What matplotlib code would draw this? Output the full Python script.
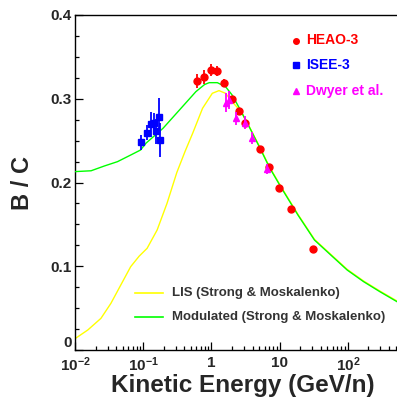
import matplotlib
matplotlib.use("Agg")
import matplotlib.pyplot as plt
from matplotlib.ticker import FixedLocator, MultipleLocator, LogLocator, NullFormatter

plt.rcParams["font.family"] = ["Liberation Sans", "DejaVu Sans"]
plt.rcParams["mathtext.fontset"] = "custom"
plt.rcParams["mathtext.rm"] = "Liberation Sans:bold"
plt.rcParams["mathtext.it"] = "Liberation Sans:bold"
plt.rcParams["mathtext.bf"] = "Liberation Sans:bold"
plt.rcParams["mathtext.default"] = "rm"

# ---- data -------------------------------------------------------------
# HEAO-3 B/C ratio
heao_E = [0.61, 0.78, 0.98, 1.22, 1.53, 2.0, 2.5, 3.14, 5.2, 7.0, 9.8, 14.8, 30.8]
heao_BC = [0.321, 0.326, 0.334, 0.3335, 0.319, 0.2995, 0.2855, 0.271, 0.240, 0.218, 0.194, 0.168, 0.1204]
heao_err = [0.008, 0.008, 0.007, 0.006, 0.004, 0.004, 0.004, 0.004, 0.003, 0.003, 0.003, 0.003, 0.002]

# ISEE-3 B/C ratio
isee_E = [0.094, 0.114, 0.129, 0.144, 0.169, 0.156, 0.178]
isee_BC = [0.248, 0.2595, 0.2695, 0.271, 0.2787, 0.261, 0.251]
isee_err = [0.009, 0.009, 0.015, 0.012, 0.022, 0.015, 0.020]

# Dwyer et al. B/C ratio
dwyer_E = [1.65, 1.80, 2.26, 3.06, 3.93, 6.62]
dwyer_BC = [0.2955, 0.2985, 0.2766, 0.2715, 0.2528, 0.2157]
dwyer_err = [0.011, 0.011, 0.008, 0.008, 0.007, 0.006]

# Strong & Moskalenko model: local interstellar spectrum
lis_E = [0.0100, 0.0154, 0.0240, 0.0336, 0.0469, 0.0655, 0.0871, 0.114, 0.160,
         0.223, 0.311, 0.410, 0.531, 0.741, 1.03, 1.29, 1.61, 2.01, 2.66, 3.55,
         5.01, 7.08, 10.7, 18.6, 32.4, 56.2, 97.7, 170, 295, 525]
lis_BC = [0.0135, 0.0239, 0.0378, 0.0557, 0.0776, 0.0995, 0.112, 0.1214, 0.1433,
          0.175, 0.212, 0.237, 0.2588, 0.2886, 0.3065, 0.3097, 0.3065, 0.2965, 0.2855, 0.2675,
          0.2438, 0.2188, 0.1938, 0.1618, 0.1321, 0.1142, 0.0963, 0.0824, 0.0704, 0.0585]

# Strong & Moskalenko model: solar-modulated
mod_E = [0.0100, 0.0172, 0.0269, 0.0420, 0.0655, 0.0914, 0.110, 0.195, 0.340,
         0.592, 0.794, 0.927, 1.22, 1.61, 2.01, 2.66, 3.55, 5.01, 7.08, 10.7,
         18.6, 32.4, 56.2, 97.7, 170, 295, 525]
mod_BC = [0.213, 0.214, 0.2197, 0.2249, 0.2328, 0.2388, 0.247, 0.2647, 0.2866,
          0.3085, 0.317, 0.3192, 0.3192, 0.3144, 0.3045, 0.2866, 0.267, 0.243, 0.218, 0.193,
          0.161, 0.1313, 0.1134, 0.0955, 0.0816, 0.0696, 0.0577]

x_ticks = [0.01, 0.1, 1, 10, 100]
x_tick_labels = [r"$10^{-2}$", r"$10^{-1}$", "1", "10", r"$10^{2}$"]
y_ticks = [0.0, 0.1, 0.2, 0.3, 0.4]
y_tick_labels = ["0", "0.1", "0.2", "0.3", "0.4"]

# ---- figure -------------------------------------------------------------
W, H = 397, 398
fig = plt.figure(figsize=(W / 100, H / 100), dpi=100)
ax = fig.add_axes([75 / W, 48 / H, 322 / W, 335 / H])

TXT = "#262626"
GREEN = "#00ff00"
YELLOW = "#ffff00"

ax.plot(lis_E, lis_BC, color=YELLOW, lw=1.0, zorder=2)
ax.plot(mod_E, mod_BC, color=GREEN, lw=1.0, zorder=3)

ax.errorbar(isee_E, isee_BC, yerr=isee_err, fmt="s", color="#0000ff", ms=5,
            elinewidth=1.3, capsize=0, zorder=4)
ax.errorbar(heao_E, heao_BC, yerr=heao_err, fmt="o", color="#ff0000", ms=5,
            elinewidth=1.3, capsize=0, zorder=5)
ax.errorbar(dwyer_E, dwyer_BC, yerr=dwyer_err, fmt="^", color="#ff00ff", ms=5,
            elinewidth=1.3, capsize=0, zorder=6)

ax.set_xscale("log")
ax.set_xlim(0.01, 525)
ax.set_ylim(0, 0.4)

ax.xaxis.set_major_locator(FixedLocator(x_ticks))
ax.set_xticklabels(x_tick_labels)
ax.xaxis.set_minor_locator(LogLocator(base=10, subs=range(2, 10), numticks=20))
ax.xaxis.set_minor_formatter(NullFormatter())
ax.yaxis.set_major_locator(FixedLocator(y_ticks))
ylabels = ax.set_yticklabels(y_tick_labels)
ax.yaxis.set_minor_locator(MultipleLocator(0.025))
ylabels[0].set_va("bottom")

ax.tick_params(which="both", direction="in", width=0.9, color="black",
               top=False, right=False)
ax.tick_params(axis="y", which="major", length=6, pad=2.5, labelsize=11, labelcolor=TXT)
ax.tick_params(axis="y", which="minor", length=3)
ax.tick_params(axis="x", which="major", length=5.5, pad=4, labelsize=11, labelcolor=TXT)
ax.tick_params(axis="x", which="minor", length=3)
for lab in ax.get_xticklabels() + ax.get_yticklabels():
    lab.set_fontweight("bold")

for side in ("left", "bottom", "top"):
    ax.spines[side].set_linewidth(1.0)
    ax.spines[side].set_color("black")
ax.spines["right"].set_visible(False)

ax.set_xlabel("Kinetic Energy (GeV/n)", fontsize=17.5, fontweight="bold", color=TXT)
ax.xaxis.set_label_coords(0.52, -0.072)
ax.set_ylabel("B / C", fontsize=17, fontweight="bold", color=TXT)
ax.yaxis.set_label_coords(-0.128, 0.5)

# data-set key (upper right)
def ax_xy(px, py):
    return (px - 75) / 322, (350 - py) / 335

data_keys = [("HEAO-3", "o", "#ff0000", 40.5),
             ("ISEE-3", "s", "#0000ff", 65.0),
             ("Dwyer et al.", "^", "#ff00ff", 90.5)]
for label, mk, col, py in data_keys:
    mx, my = ax_xy(296, py)
    tx, _ = ax_xy(306, py)
    ax.plot([mx], [my], marker=mk, color=col, ms=4, transform=ax.transAxes,
            clip_on=False, zorder=7)
    ax.text(tx, my, label, color=col, fontsize=10, fontweight="bold",
            va="center", ha="left", transform=ax.transAxes)

# model key (lower middle)
model_keys = [("LIS (Strong & Moskalenko)", YELLOW, 292.7),
              ("Modulated (Strong & Moskalenko)", GREEN, 316.7)]
for label, col, py in model_keys:
    x0, yy = ax_xy(135, py)
    x1, _ = ax_xy(163, py)
    tx, _ = ax_xy(172.5, py)
    ax.plot([x0, x1], [yy, yy], color=col, lw=1.2, transform=ax.transAxes, zorder=7)
    ax.text(tx, yy, label, color="#333333", fontsize=9.5, fontweight="bold",
            va="center", ha="left", transform=ax.transAxes, clip_on=False)

fig.savefig("out.png", dpi=100)
